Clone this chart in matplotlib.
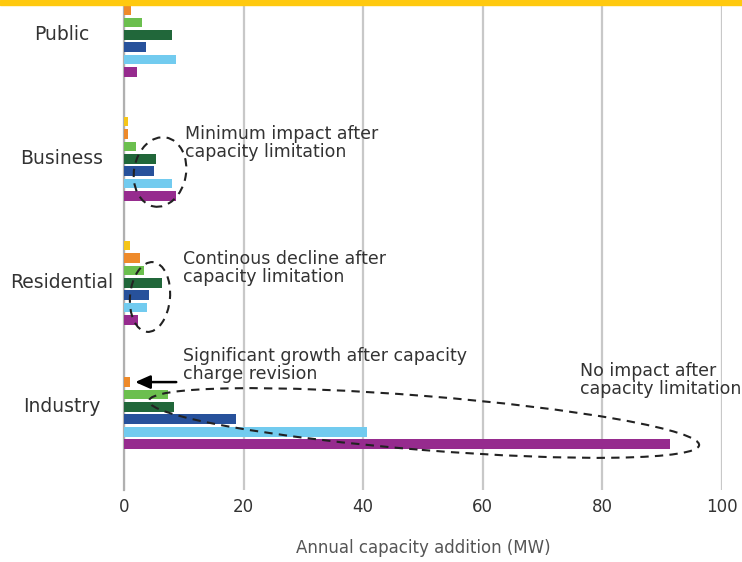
import numpy as np
import matplotlib.pyplot as plt
from matplotlib.patches import Ellipse, Rectangle
from matplotlib.transforms import IdentityTransform

# data (MW)
categories = ['Public', 'Business', 'Residential', 'Industry']
series_colors = ['#F5C518', '#EE8A2A', '#6BBF4E', '#21673A', '#27519B', '#72CBEF', '#962B8E']
values = [
    [0.0, 1.2, 3.0, 8.0, 3.7, 8.7, 2.2],    # Public
    [0.7, 0.7, 2.0, 5.3, 5.1, 8.0, 8.7],    # Business
    [1.0, 2.7, 3.3, 6.3, 4.2, 3.9, 2.4],    # Residential
    [0.0, 1.0, 7.3, 8.3, 18.8, 40.7, 91.3], # Industry
]
xticks = [0, 20, 40, 60, 80, 100]

W, H = 742, 562
fig = plt.figure(figsize=(W / 100, H / 100), dpi=100)

def fx(x):
    return x / W

def fy(y):
    return 1 - y / H

ax = fig.add_axes([fx(124), fy(490), fx(722) - fx(124), fy(5) - fy(490)])

step = 0.1
height = 0.078
group_pos = np.arange(len(categories))
for i, col in enumerate(series_colors):
    offs = (i - 3) * step
    vals = [v[i] for v in values]
    ax.barh(group_pos + offs, vals, height=height, color=col, zorder=3)

ax.set_xlim(0, 100)
ax.set_ylim(3.67, -0.24)
ax.set_xticks(xticks)
ax.set_xticklabels([str(t) for t in xticks], fontsize=12, color='#333333')
ax.set_yticks(group_pos)
ax.set_yticklabels([])
ax.tick_params(axis='y', length=0)
ax.tick_params(axis='x', length=0, pad=6)
# category labels centred in the left margin
for p, name in zip(group_pos, categories):
    ax.annotate(name, xy=(0, p), xycoords=('axes fraction', 'data'),
                xytext=(fx(62) * W - 124, 0), textcoords='offset pixels',
                ha='center', va='center', fontsize=13.5, color='#333333')
ax.grid(axis='x', color='#c8c8c8', linewidth=1.6, zorder=0)
for s in ['top', 'right', 'bottom']:
    ax.spines[s].set_visible(False)
ax.spines['left'].set_color('#b0b0b0')
ax.spines['left'].set_linewidth(1.6)
ax.set_xlabel('Annual capacity addition (MW)', fontsize=12, color='#555555', labelpad=16)

# yellow band at the top
fig.patches.append(Rectangle((0, fy(5)), 1, 1 - fy(5), transform=fig.transFigure,
                             color='#FFC90E', zorder=10))

# annotations
tc = '#333333'
fs = 12.5
fig.text(fx(185), fy(143), 'Minimum impact after\ncapacity limitation', fontsize=fs,
         color=tc, va='center', ha='left', linespacing=1.05)
fig.text(fx(183), fy(268), 'Continous decline after\ncapacity limitation', fontsize=fs,
         color=tc, va='center', ha='left', linespacing=1.05)
fig.text(fx(183), fy(365), 'Significant growth after capacity\ncharge revision', fontsize=fs,
         color=tc, va='center', ha='left', linespacing=1.05)
fig.text(fx(580), fy(380), 'No impact after\ncapacity limitation', fontsize=fs,
         color=tc, va='center', ha='left', linespacing=1.05)

ind = 3
orange_y = ind + (1 - 3) * step
ax.annotate('', xy=(values[ind][1] + 0.4, orange_y), xytext=(9.2, orange_y),
            arrowprops=dict(arrowstyle='-|>,head_length=0.9,head_width=0.4',
                            color='black', lw=1.8), zorder=5)

# dashed ellipses in pixel coords
def ell(cx, cy, w, h, ang):
    e = Ellipse((cx, H - cy), w, h, angle=ang, transform=IdentityTransform(),
                fill=False, edgecolor='#222222', linestyle=(0, (4, 3)), linewidth=1.5,
                zorder=6)
    fig.patches.append(e)

ell(160, 172, 52, 70, -10)
ell(150, 297, 40, 70, -5)
ell(424, 423, 552, 54, -4.6)

fig.savefig('out.png', dpi=100)
